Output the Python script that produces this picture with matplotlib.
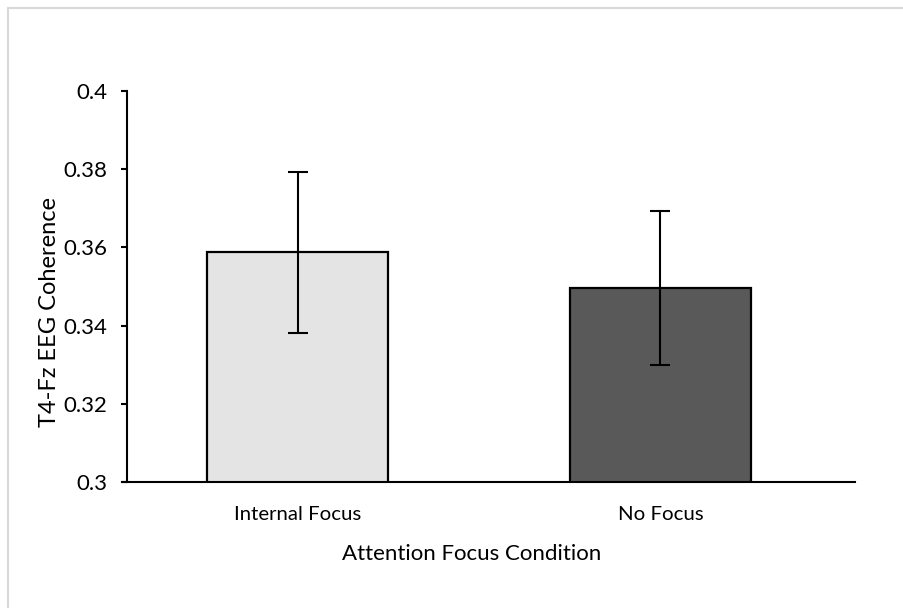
import matplotlib.pyplot as plt
from matplotlib.patches import Rectangle

plt.rcParams['font.family'] = ['Lato', 'DejaVu Sans']

conditions = ['Internal Focus', 'No Focus']
coherence = [0.3587, 0.3496]
err = [0.0205, 0.0198]
bar_colors = ['#e4e4e4', '#595959']
yticks = [0.3, 0.32, 0.34, 0.36, 0.38, 0.4]

fig = plt.figure(figsize=(9.04, 6.08), dpi=100)
ax = fig.add_axes([127 / 904, 1 - 482 / 608, 728 / 904, 391 / 608])

# light frame round the chart area (cut off on right/bottom like the source)
fig.patches.append(Rectangle((8 / 904, -0.05), 1.1, 1 - 8 / 608 + 0.05,
                             transform=fig.transFigure, fill=False,
                             edgecolor='#d9d9d9', linewidth=1.5))

x = range(len(conditions))
ax.bar(x, coherence, width=0.5, color=bar_colors, edgecolor='black', linewidth=1.6,
       zorder=2)
ax.errorbar(x, coherence, yerr=err, fmt='none', ecolor='black', elinewidth=1.5,
            capsize=7.5, capthick=1.5, zorder=3)

ax.set_xlim(-0.47, 1.536)
ax.set_ylim(0.3, 0.4)
ax.set_yticks(yticks)
ax.set_yticklabels(['%g' % v for v in yticks])
ax.set_xticks(list(x))
ax.set_xticklabels(conditions)

for s in ['top', 'right']:
    ax.spines[s].set_visible(False)
ax.spines['left'].set_linewidth(1.5)
ax.spines['bottom'].set_linewidth(1.5)
ax.spines['bottom'].set_bounds(-0.484, 1.536)

ax.tick_params(axis='y', direction='out', length=4, width=1.5, labelsize=16, pad=10,
               colors='black')
ax.tick_params(axis='x', length=0, labelsize=14.7, pad=17)

ax.set_ylabel('T4-Fz EEG Coherence', fontsize=17, va='center')
ax.yaxis.set_label_coords(-0.106, 0.435)
ax.set_xlabel('Attention Focus Condition', fontsize=16, va='center')
ax.xaxis.set_label_coords(0.473, -0.184)

fig.savefig('out.png', dpi=100)
